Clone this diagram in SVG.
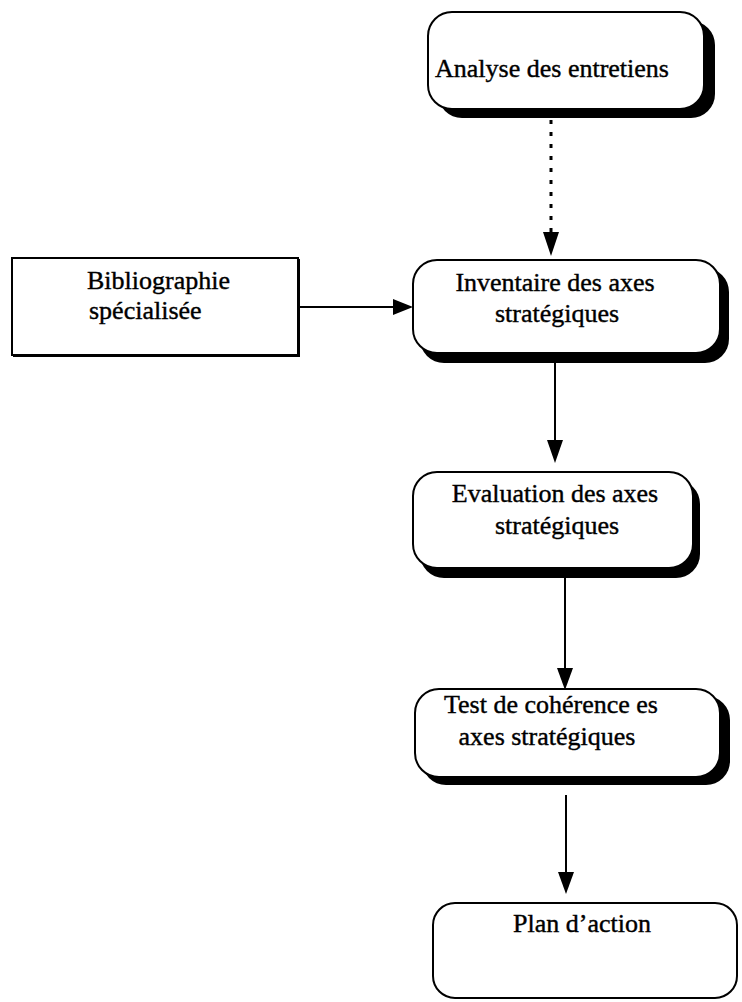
<svg xmlns="http://www.w3.org/2000/svg" width="742" height="1002" viewBox="0 0 742 1002">
<style>
.shadow{fill:#000}
.box{fill:#fff;stroke:#000;stroke-width:2}
.t{font-family:"Liberation Serif","Times New Roman",serif;font-size:26px;fill:#000;stroke:#000;stroke-width:0.4;text-anchor:middle}
.tl{font-family:"Liberation Serif","Times New Roman",serif;font-size:26px;fill:#000;stroke:#000;stroke-width:0.4}
.line{stroke:#000;stroke-width:2;fill:none}
.dot{stroke:#000;stroke-width:3;fill:none;stroke-dasharray:4 8}
</style>
<rect width="742" height="1002" fill="#fff"/>
<g id="connectors">
<line class="dot" x1="551" y1="120" x2="551" y2="232"/>
<path d="M543,232 L559,232 L551,256 Z" fill="#000"/>
<line class="line" x1="298" y1="307" x2="395" y2="307"/>
<path d="M393,299 L413,307 L393,315 Z" fill="#000"/>
<line class="line" x1="555" y1="363" x2="555" y2="440"/>
<path d="M547,440 L563,440 L555,463 Z" fill="#000"/>
<line class="line" x1="565" y1="578" x2="565" y2="668"/>
<path d="M557,668 L573,668 L565,690 Z" fill="#000"/>
<line class="line" x1="566" y1="795" x2="566" y2="872"/>
<path d="M558,872 L574,872 L566,894 Z" fill="#000"/>
</g>
<g id="n-analyse">
<rect class="shadow" x="438" y="21" width="277" height="97" rx="24"/>
<rect class="box" x="428" y="12" width="276" height="97" rx="24"/>
<text class="t" x="552" y="77">Analyse des entretiens</text>
</g>
<g id="n-biblio">
<rect class="shadow" x="13" y="259" width="287" height="98"/>
<rect class="box" x="12" y="258" width="286" height="97"/>
<text class="tl" x="87" y="289">Bibliographie</text>
<text class="tl" x="89" y="319">spécialisée</text>
</g>
<g id="n-inventaire">
<rect class="shadow" x="420" y="268" width="309" height="95" rx="24"/>
<rect class="box" x="413" y="260" width="307" height="93" rx="24"/>
<text class="t" x="555" y="291">Inventaire des axes</text>
<text class="t" x="557" y="322">stratégiques</text>
</g>
<g id="n-evaluation">
<rect class="shadow" x="420" y="480" width="280" height="98" rx="24"/>
<rect class="box" x="413" y="472" width="280" height="96" rx="24"/>
<text class="t" x="555" y="502">Evaluation des axes</text>
<text class="t" x="557" y="534">stratégiques</text>
</g>
<g id="n-test">
<rect class="shadow" x="422" y="696" width="308" height="89" rx="24"/>
<rect class="box" x="415" y="689" width="305" height="88" rx="24"/>
<text class="t" x="551" y="713">Test de cohérence es</text>
<text class="t" x="547" y="745">axes stratégiques</text>
</g>
<g id="n-plan">
<rect class="box" x="433" y="903" width="304" height="95" rx="22"/>
<text class="t" x="582" y="932">Plan d’action</text>
</g>
</svg>
